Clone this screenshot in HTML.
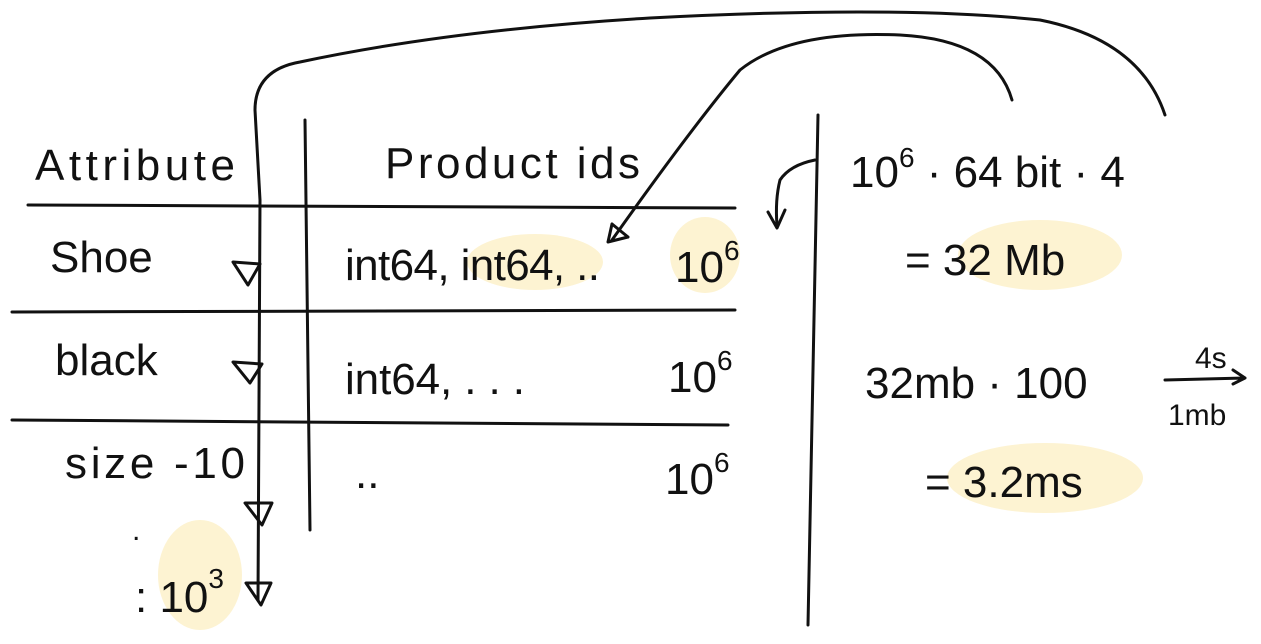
<!DOCTYPE html>
<html><head><meta charset="utf-8"><style>
html,body{margin:0;padding:0;background:#fff;}
svg{display:block;}
text{font-family:"Liberation Sans",sans-serif;fill:#111;}
</style></head><body>
<svg width="1261" height="644" viewBox="0 0 1261 644" xmlns="http://www.w3.org/2000/svg">
<g fill="#fdf3d2">
<ellipse cx="535" cy="262" rx="68" ry="28"/>
<ellipse cx="705" cy="255" rx="35" ry="38"/>
<ellipse cx="1040" cy="255" rx="82" ry="35"/>
<ellipse cx="1045" cy="478" rx="98" ry="35"/>
<ellipse cx="200" cy="575" rx="42" ry="55"/>
</g>
<g stroke="#111" stroke-width="3" fill="none" stroke-linecap="round" stroke-linejoin="round">
<path d="M28 205 L735 208"/>
<path d="M12 312 L735 310"/>
<path d="M12 420 L728 425"/>
<path d="M305 120 L310 530"/>
<path d="M818 115 L808 625"/>
<path d="M258 600 L260 200 L255 110 Q255 70 300 62 Q450 30 650 18 Q900 5 1040 20 Q1140 40 1165 115"/>
<path d="M1012 100 Q995 40 900 35 Q790 30 740 70 Q690 130 612 240"/>
<path d="M608 242 l20 -5 M608 242 l4 -18 M612 224 l16 13"/>
<path d="M815 160 Q790 165 780 180 Q775 200 777 225"/>
<path d="M768 212 L777 228 L785 210"/>
<path d="M233 262 L260 264 L248 285 Z"/>
<path d="M233 362 L262 364 L250 383 Z"/>
<path d="M245 503 L272 503 L262 525 Z"/>
<path d="M246 583 L271 583 L261 605 Z"/>
<path d="M1165 380 L1245 378 M1233 370 l12 8 l-12 6"/>
</g>
<g font-size="44">
<text x="35" y="180" textLength="200">Attribute</text>
<text x="385" y="178" textLength="255">Product ids</text>
<text x="850" y="187">10<tspan dy="-20" font-size="28">6</tspan><tspan dy="20"> · 64 bit · 4</tspan></text>
<text x="905" y="275">=  32 Mb</text>
<text x="50" y="272">Shoe</text>
<text x="345" y="280" textLength="255">int64, int64, ..</text>
<text x="675" y="282">10<tspan dy="-22" font-size="28">6</tspan></text>
<text x="55" y="375">black</text>
<text x="345" y="394" textLength="180">int64, . . .</text>
<text x="668" y="392">10<tspan dy="-22" font-size="28">6</tspan></text>
<text x="65" y="478" textLength="180">size -10</text>
<text x="355" y="488">..</text>
<text x="665" y="494">10<tspan dy="-22" font-size="28">6</tspan></text>
<text x="865" y="398">32mb · 100</text>
<text x="1195" y="368" font-size="30">4s</text>
<text x="1168" y="425" font-size="30">1mb</text>
<text x="925" y="497">= 3.2ms</text>
<text x="135" y="612">: 10<tspan dy="-24" font-size="28">3</tspan></text>
<text x="132" y="540" font-size="30">.</text>
</g>
</svg>
</body></html>
